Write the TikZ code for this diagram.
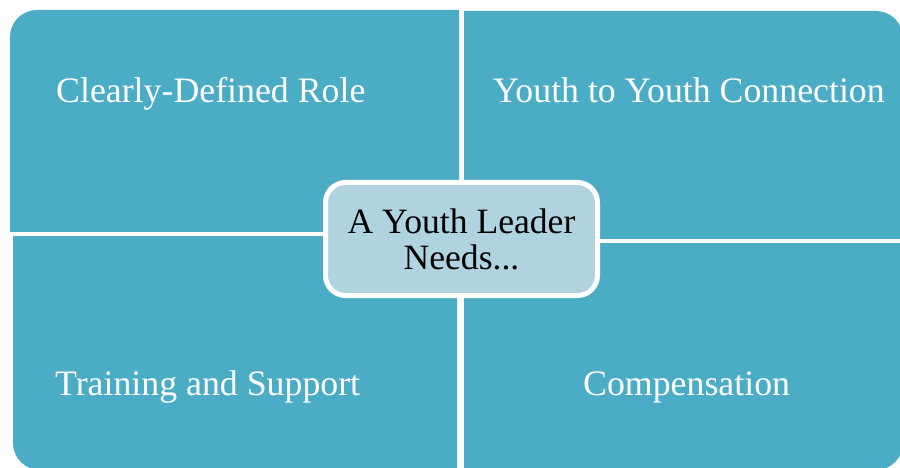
\documentclass[tikz,border=0pt]{standalone}
\usepackage{fontspec}
\setmainfont{Liberation Serif}
\definecolor{quad}{HTML}{4BACC6}
\definecolor{hub}{HTML}{B0D4DF}
\tikzset{
  quadtext/.style={text=white, font=\fontsize{35.8}{40}\selectfont, inner sep=0pt, anchor=base west},
  hubbox/.style={draw=white, line width=5pt, fill=hub, rounded corners=20pt,
    minimum width=272pt, minimum height=113pt, inner sep=0pt, align=center,
    font=\fontsize{35.6}{36}\selectfont, text=black}
}
\begin{document}
\begin{tikzpicture}[x=1pt,y=-1pt]
\clip (0,0) rectangle (900,468);
\fill[white] (0,0) rectangle (900,468);
% top-left quadrant
\begin{scope}
\clip (0,0) rectangle (459,231);
\fill[quad, rounded corners=27pt] (10,10) rectangle (520,300);
\end{scope}
% top-right quadrant
\begin{scope}
\clip (464,0) rectangle (900,238);
\fill[quad, rounded corners=27pt] (400,11) rectangle (903,300);
\end{scope}
% bottom-left quadrant
\begin{scope}
\clip (0,236) rectangle (457,468);
\fill[quad, rounded corners=27pt] (13,180) rectangle (520,470);
\end{scope}
% bottom-right quadrant
\begin{scope}
\clip (464,243) rectangle (900,468);
\fill[quad, rounded corners=27pt] (400,180) rectangle (903,470);
\end{scope}
\node[quadtext] (tl) at (56,103) {Clearly-Defined Role};
\node[quadtext] (tr) at (493,103) {Youth to Youth Connection};
\node[quadtext] (bl) at (55,395) {Training and Support};
\node[quadtext] (br) at (583,395) {Compensation};
\node[hubbox] (hub) at (461.5,239) {A Youth Leader\\Needs...};
\end{tikzpicture}
\end{document}
